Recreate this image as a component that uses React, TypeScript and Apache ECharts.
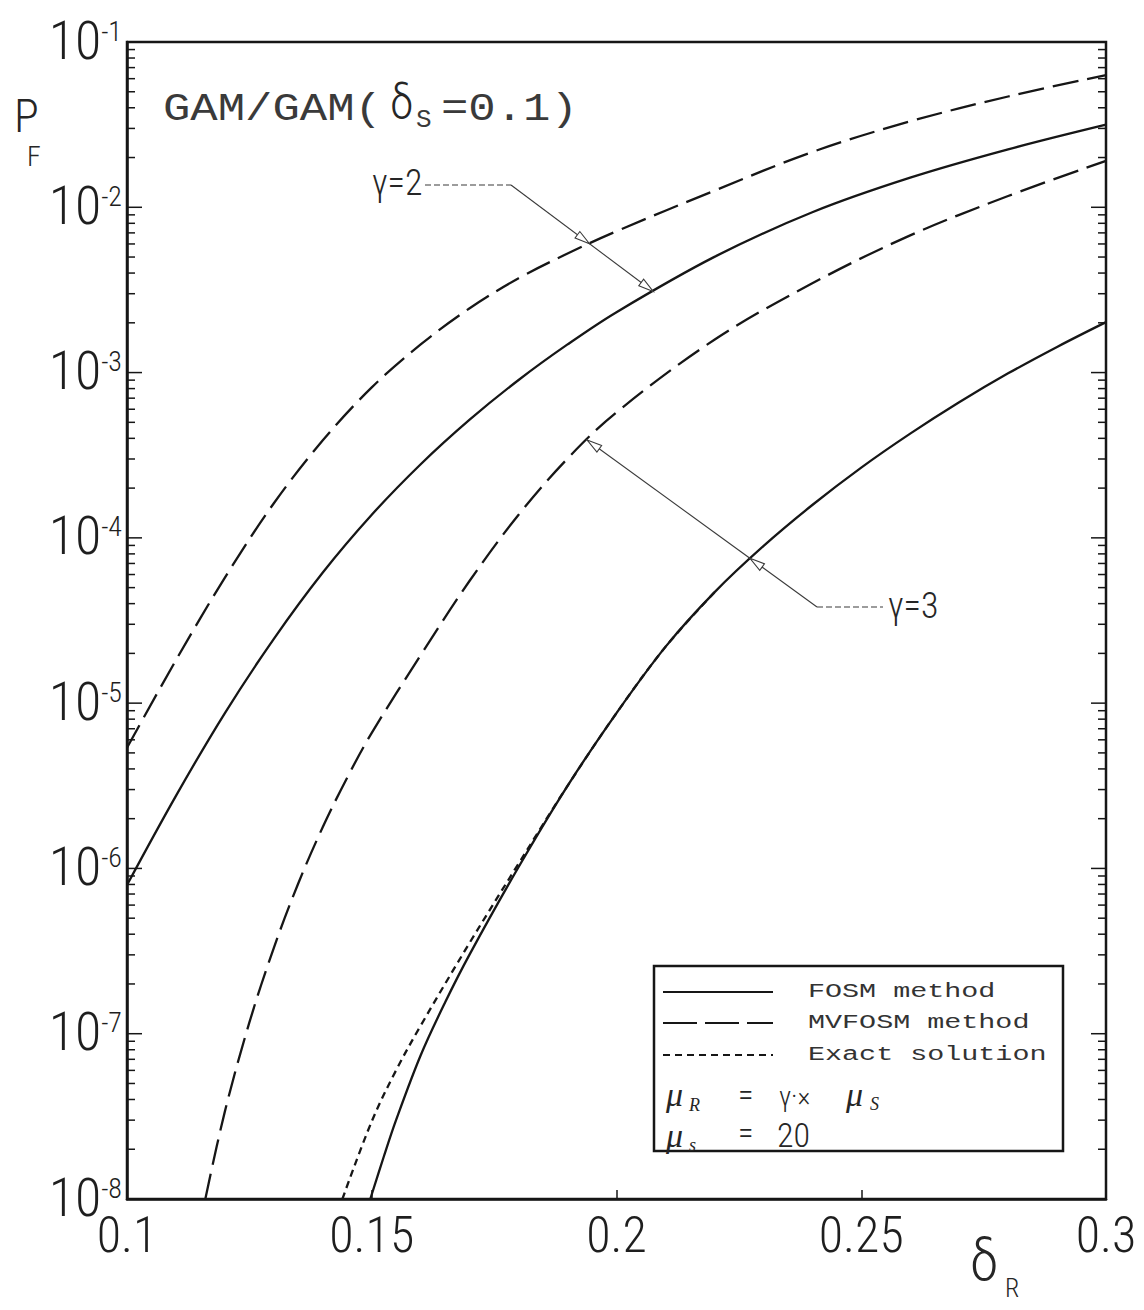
import React, { useEffect, useRef } from 'react';
import * as echarts from 'echarts';

// Horizontal axis (coefficient of variation of R) tick labels
const xTickLabels = ['0.1', '0.15', '0.2', '0.25', '0.3'];
// Decade exponents of the failure probability axis, bottom to top
const yExponents = ['-8', '-7', '-6', '-5', '-4', '-3', '-2', '-1'];

// gamma = 2 : [deltaR, Pf]
const g2Mvfosm: [number, number][] = [
  [0.10, 5.37e-6], [0.11, 1.82e-5], [0.12, 5.75e-5], [0.13, 1.62e-4], [0.14, 3.89e-4],
  [0.15, 8.13e-4], [0.16, 1.48e-3], [0.17, 2.45e-3], [0.18, 3.72e-3], [0.19, 5.25e-3],
  [0.20, 7.16e-3], [0.22, 1.26e-2], [0.24, 2.16e-2], [0.26, 3.31e-2], [0.28, 4.68e-2], [0.30, 6.31e-2],
];
const g2Fosm: [number, number][] = [
  [0.10, 7.94e-7], [0.11, 2.75e-6], [0.12, 8.71e-6], [0.13, 2.45e-5], [0.14, 6.17e-5],
  [0.15, 1.38e-4], [0.16, 2.79e-4], [0.17, 5.19e-4], [0.18, 9.02e-4], [0.19, 1.48e-3],
  [0.20, 2.32e-3], [0.22, 5.01e-3], [0.24, 9.33e-3], [0.26, 1.51e-2], [0.28, 2.24e-2], [0.30, 3.16e-2],
];

// gamma = 3 : [deltaR, Pf]
const g3Mvfosm: [number, number][] = [
  [0.116, 1.0e-8], [0.12, 3.39e-8], [0.125, 1.17e-7], [0.13, 3.31e-7], [0.135, 8.13e-7],
  [0.14, 1.78e-6], [0.145, 3.55e-6], [0.15, 6.61e-6], [0.16, 1.95e-5], [0.17, 5.50e-5],
  [0.18, 1.38e-4], [0.19, 3.02e-4], [0.20, 5.75e-4], [0.22, 1.58e-3], [0.24, 3.47e-3],
  [0.26, 6.76e-3], [0.28, 1.17e-2], [0.30, 1.91e-2],
];
const g3Fosm: [number, number][] = [
  [0.1497, 1.0e-8], [0.1525, 1.82e-8], [0.155, 3.02e-8], [0.16, 7.41e-8], [0.165, 1.55e-7],
  [0.17, 3.02e-7], [0.18, 1.02e-6], [0.19, 3.16e-6], [0.20, 8.71e-6], [0.21, 2.19e-5],
  [0.22, 4.68e-5], [0.23, 8.91e-5], [0.24, 1.58e-4], [0.25, 2.66e-4], [0.26, 4.27e-4],
  [0.27, 6.61e-4], [0.28, 9.89e-4], [0.29, 1.43e-3], [0.30, 2.02e-3],
];
const g3Exact: [number, number][] = [
  [0.144, 1.0e-8], [0.15, 2.95e-8], [0.155, 6.03e-8], [0.16, 1.12e-7], [0.17, 3.55e-7],
  [0.18, 1.07e-6], [0.19, 3.16e-6], [0.20, 8.71e-6], [0.21, 2.19e-5], [0.22, 4.68e-5],
];

const INK = '#161616';
const HAND = "'Roboto Condensed', 'Liberation Sans Narrow', 'DejaVu Sans Condensed', Roboto, sans-serif";
const PLOT = "'Liberation Mono', 'DejaVu Sans Mono', monospace";
const TYPE = "'Liberation Mono', 'DejaVu Sans Mono', monospace";
const ITAL = "'Liberation Serif', 'DejaVu Serif', serif";

const SOLID = 'solid';
const LONG_DASH = [26, 9];
const SHORT_DASH = [7, 5];

// log-spaced tick marks on the left and right frame edges
const tickData: number[][] = [];
for (let e = -8; e <= -1; e++) {
  tickData.push([0.1, Math.pow(10, e), 15]);
  if (e < -1) for (let k = 2; k <= 9; k++) tickData.push([0.1, k * Math.pow(10, e), 8]);
}

function lineSeries(name: string, data: [number, number][], type: any) {
  return {
    name,
    type: 'line',
    data,
    showSymbol: false,
    smooth: 0.35,
    lineStyle: { color: INK, width: 2.3, type },
    z: 3,
  };
}

export default function App() {
  const ref = useRef<HTMLDivElement>(null);

  useEffect(() => {
    const chart = echarts.init(ref.current!, null, { renderer: 'svg' });

    chart.setOption({
      animation: false,
      backgroundColor: '#ffffff',
      grid: {
        left: 127, right: 38, top: 42, bottom: 111,
        show: true, borderColor: INK, borderWidth: 2.5,
      },
      xAxis: {
        type: 'value',
        min: 0.1, max: 0.3, interval: 0.05,
        axisLine: { show: true, lineStyle: { color: INK, width: 2.5 } },
        axisTick: { show: true, inside: true, length: 9, lineStyle: { color: INK, width: 1.5 } },
        splitLine: { show: false },
        axisLabel: {
          margin: 8,
          fontFamily: HAND, fontWeight: 300, fontSize: 50, lineHeight: 56, color: '#1e1e1e',
          formatter: (v: number) => xTickLabels[Math.round((v - 0.1) / 0.05)] ?? '',
        },
      },
      yAxis: {
        type: 'log', logBase: 10,
        min: 1e-8, max: 1e-1, splitNumber: 7,
        axisLine: { show: true, lineStyle: { color: INK, width: 2.5 } },
        axisTick: { show: false },
        splitLine: { show: false },
        axisLabel: {
          margin: 5,
          formatter: (v: number) => {
            const i = Math.round(Math.log10(v)) + 8;
            return `{b|10}{e|${yExponents[i] ?? ''}}`;
          },
          rich: {
            b: { fontFamily: HAND, fontWeight: 300, fontSize: 54, lineHeight: 50, padding: [10, 0, 0, 0], verticalAlign: 'bottom', color: '#1e1e1e' },
            e: { fontFamily: HAND, fontWeight: 300, fontSize: 28, lineHeight: 28, verticalAlign: 'top', color: '#1e1e1e' },
          },
        },
      },
      series: [
        lineSeries('MVFOSM method', g2Mvfosm, LONG_DASH),
        lineSeries('FOSM method', g2Fosm, SOLID),
        lineSeries('MVFOSM method', g3Mvfosm, LONG_DASH),
        lineSeries('Exact solution', g3Exact, SHORT_DASH),
        lineSeries('FOSM method', g3Fosm, SOLID),
        {
          type: 'custom',
          silent: true,
          clip: false,
          data: tickData,
          encode: { x: 0, y: 1 },
          renderItem: (_p: any, api: any) => {
            const v = api.value(1);
            const len = api.value(2);
            const l = api.coord([0.1, v]);
            const r = api.coord([0.3, v]);
            const st = { stroke: INK, lineWidth: 1.5 };
            return {
              type: 'group',
              children: [
                { type: 'line', shape: { x1: l[0], y1: l[1], x2: l[0] + len, y2: l[1] }, style: st },
                { type: 'line', shape: { x1: r[0], y1: r[1], x2: r[0] - len, y2: r[1] }, style: st },
              ],
            };
          },
          z: 4,
        },
      ],
    });

    // ---- annotations: leader lines with arrowheads that land on the curves ----
    const toPx = (x: number, y: number) => chart.convertToPixel({ gridIndex: 0 }, [x, y]) as number[];
    const onCurve = (data: [number, number][], x: number) => {
      for (let i = 0; i < data.length - 1; i++) {
        const [x0, p0] = data[i];
        const [x1, p1] = data[i + 1];
        if (x >= x0 && x <= x1) {
          const t = (x - x0) / (x1 - x0);
          const lg = Math.log10(p0) + t * (Math.log10(p1) - Math.log10(p0));
          return toPx(x, Math.pow(10, lg));
        }
      }
      return toPx(x, data[data.length - 1][1]);
    };
    const crossing = (a: number[], b: number[], data: [number, number][]) => {
      const pts = data.map((d) => toPx(d[0], d[1]));
      const yAt = (x: number) => {
        for (let i = 0; i < pts.length - 1; i++) {
          if (x >= pts[i][0] && x <= pts[i + 1][0]) {
            const t = (x - pts[i][0]) / (pts[i + 1][0] - pts[i][0]);
            return pts[i][1] + t * (pts[i + 1][1] - pts[i][1]);
          }
        }
        return null;
      };
      let prev: number | null = null;
      for (let i = 0; i <= 600; i++) {
        const t = i / 600;
        const x = a[0] + (b[0] - a[0]) * t;
        const y = a[1] + (b[1] - a[1]) * t;
        const cy = yAt(x);
        if (cy === null) continue;
        const s = y - cy;
        if (prev !== null && Math.sign(s) !== Math.sign(prev)) return [x, y];
        prev = s;
      }
      return [(a[0] + b[0]) / 2, (a[1] + b[1]) / 2];
    };
    const arrowHead = (from: number[], tip: number[]) => {
      const dx = tip[0] - from[0];
      const dy = tip[1] - from[1];
      const L = Math.hypot(dx, dy) || 1;
      const ux = dx / L, uy = dy / L;
      const bx = tip[0] - ux * 15, by = tip[1] - uy * 15;
      return {
        type: 'polygon', z: 60,
        shape: { points: [[tip[0], tip[1]], [bx - uy * 4, by + ux * 4], [bx + uy * 4, by - ux * 4]] },
        style: { fill: '#ffffff', stroke: '#3a3a3a', lineWidth: 1.1 },
      };
    };
    const thin = { stroke: '#3a3a3a', lineWidth: 1.1 };
    const leader = { stroke: '#3a3a3a', lineWidth: 1.2, lineDash: [6, 3] };

    // gamma = 2
    const c2 = [511, 185];
    const tip2 = onCurve(g2Fosm, 0.2075);
    const mid2 = crossing(c2, tip2, g2Mvfosm);
    // gamma = 3
    const c3 = [817, 607];
    const tip3 = onCurve(g3Mvfosm, 0.194);
    const mid3 = crossing(c3, tip3, g3Fosm);

    const txt = (x: number, y: number, text: string, font: string, size: number, extra: any = {}) => ({
      type: 'text', x, y, z: 70,
      style: { text, font: `${extra.style || ''} ${extra.weight || 'normal'} ${size}px ${font}`, fill: extra.fill || '#262626', textAlign: extra.align || 'left', textVerticalAlign: 'middle' },
      scaleX: extra.sx || 1,
    });

    const legL = 654, legT = 966, legW = 409, legH = 185;

    chart.setOption({
      graphic: [
        // axis titles
        txt(14, 116, 'P', HAND, 46, { weight: 300 }),
        txt(27, 156, 'F', HAND, 28, { weight: 300 }),
        txt(970, 1260, 'δ', HAND, 58, { weight: 300 }),
        txt(1005, 1288, 'R', HAND, 26, { weight: 300 }),

        // title
        txt(163, 110, 'GAM/GAM(', PLOT, 38, { sx: 1.2, fill: '#3a3a3a' }),
        txt(390, 102, 'δ', HAND, 48, { weight: 300 }),
        txt(416, 120, 'S', PLOT, 26, { fill: '#3a3a3a' }),
        txt(441, 110, '=0.1)', PLOT, 38, { sx: 1.2, fill: '#3a3a3a' }),

        // gamma = 2 callout
        txt(372, 183, 'γ=2', HAND, 36, { weight: 300 }),
        { type: 'line', z: 60, shape: { x1: 425, y1: c2[1], x2: c2[0], y2: c2[1] }, style: leader },
        { type: 'line', z: 60, shape: { x1: c2[0], y1: c2[1], x2: tip2[0], y2: tip2[1] }, style: thin },
        arrowHead(c2, mid2),
        arrowHead(c2, tip2),

        // gamma = 3 callout
        txt(888, 606, 'γ=3', HAND, 36, { weight: 300 }),
        { type: 'line', z: 60, shape: { x1: c3[0], y1: c3[1], x2: 883, y2: c3[1] }, style: leader },
        { type: 'line', z: 60, shape: { x1: c3[0], y1: c3[1], x2: tip3[0], y2: tip3[1] }, style: thin },
        arrowHead(c3, mid3),
        arrowHead(c3, tip3),

        // legend box
        { type: 'rect', z: 50, shape: { x: legL, y: legT, width: legW, height: legH }, style: { fill: '#ffffff', stroke: INK, lineWidth: 2.5 } },
        { type: 'line', z: 60, shape: { x1: 663, y1: 992, x2: 773, y2: 992 }, style: { stroke: INK, lineWidth: 2 } },
        { type: 'line', z: 60, shape: { x1: 663, y1: 1023, x2: 773, y2: 1023 }, style: { stroke: INK, lineWidth: 2, lineDash: [34, 8] } },
        { type: 'line', z: 60, shape: { x1: 663, y1: 1055, x2: 773, y2: 1055 }, style: { stroke: INK, lineWidth: 2, lineDash: SHORT_DASH } },
        txt(808, 992, 'FOSM method', TYPE, 20, { sx: 1.42, fill: '#333' }),
        txt(808, 1023, 'MVFOSM method', TYPE, 20, { sx: 1.42, fill: '#333' }),
        txt(808, 1055, 'Exact solution', TYPE, 20, { sx: 1.42, fill: '#333' }),

        // mu_R = gamma x mu_S
        txt(666, 1094, 'μ', ITAL, 34, { style: 'italic' }),
        txt(689, 1105, 'R', ITAL, 18, { style: 'italic' }),
        txt(738, 1094, '=', HAND, 32, { weight: 300 }),
        txt(779, 1096, 'γ·×', HAND, 28, { weight: 300 }),
        txt(846, 1094, 'μ', ITAL, 34, { style: 'italic' }),
        txt(870, 1104, 'S', ITAL, 18, { style: 'italic' }),
        // mu_S = 20
        txt(666, 1135, 'μ', ITAL, 34, { style: 'italic' }),
        txt(689, 1145, 's', ITAL, 18, { style: 'italic' }),
        txt(738, 1132, '=', HAND, 32, { weight: 300 }),
        txt(777, 1135, '20', HAND, 34, { weight: 300 }),
      ],
    });

    return () => chart.dispose();
  }, []);

  return (
    <div
      ref={ref}
      style={{ position: 'absolute', left: 0, top: 0, width: 1144, height: 1310, background: '#ffffff' }}
    />
  );
}
